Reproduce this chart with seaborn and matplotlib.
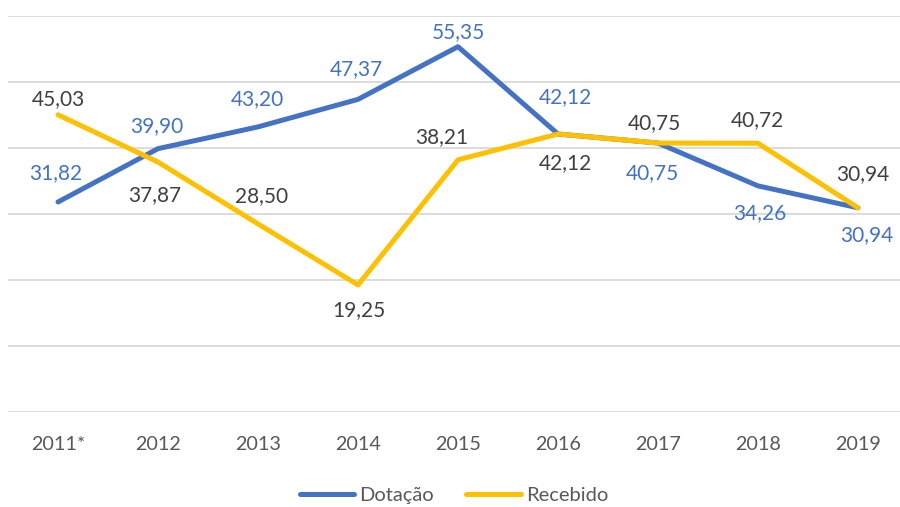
import pandas as pd
import matplotlib.pyplot as plt
import seaborn as sns

anos = ['2011*', '2012', '2013', '2014', '2015', '2016', '2017', '2018', '2019']
dotacao = [31.82, 39.90, 43.20, 47.37, 55.35, 42.12, 40.75, 34.26, 30.94]
recebido = [45.03, 37.87, 28.50, 19.25, 38.21, 42.12, 40.75, 40.72, 30.94]

# label offsets from each point, in pixels (dx, dy; dy > 0 is up)
off_dot = [(-2, 29), (-1, 23), (-1, 28), (-2, 30), (0, 15),
           (7, 37), (-6, -30), (2, -27), (9, -27)]
off_rec = [(0, 16), (-3, -33), (4, 28), (1, -25), (-16, 23),
           (7, -29), (-4, 20), (-1, 23), (5, 34)]

df = pd.DataFrame({
    'ano': anos * 2,
    'valor': dotacao + recebido,
    'serie': ['Dotação'] * len(anos) + ['Recebido'] * len(anos),
})

sns.set_style('white')
plt.rcParams['font.family'] = ['Lato', 'DejaVu Sans']

azul = '#4472C4'
amarelo = '#FFC000'

fig = plt.figure(figsize=(9, 5.07), dpi=100)
ax = fig.add_axes([8 / 900, 1 - 412 / 507, 892 / 900, 396 / 507])

sns.lineplot(data=df, x='ano', y='valor', hue='serie', sort=False,
             palette={'Dotação': azul, 'Recebido': amarelo},
             linewidth=3.6, ax=ax, legend=True)

ax.set_xlim(-0.5, 8.42)
ax.set_ylim(0, 60)
ax.set_yticks(range(0, 61, 10))
ax.set_yticklabels([])
ax.yaxis.grid(True, color='#d9d9d9', linewidth=1.3)
ax.set_axisbelow(True)
for s in ax.spines.values():
    s.set_visible(False)
ax.tick_params(length=0, labelsize=14.2, colors='#595959', pad=17)
ax.set_xlabel('')
ax.set_ylabel('')


def fmt(v):
    return f'{v:.2f}'.replace('.', ',')


for i, (v, o) in enumerate(zip(dotacao, off_dot)):
    ax.annotate(fmt(v), (i, v), xytext=o, textcoords='offset pixels',
                ha='center', va='center', fontsize=15, color=azul)
for i, (v, o) in enumerate(zip(recebido, off_rec)):
    ax.annotate(fmt(v), (i, v), xytext=o, textcoords='offset pixels',
                ha='center', va='center', fontsize=15, color='#404040')

leg = ax.legend(loc='center', bbox_to_anchor=(0.5, -0.21), ncol=2, frameon=False,
                fontsize=14.5, handlelength=2.7, handletextpad=0.25, columnspacing=1.6)
for t in leg.get_texts():
    t.set_color('#595959')

fig.savefig('out.png', dpi=100)
